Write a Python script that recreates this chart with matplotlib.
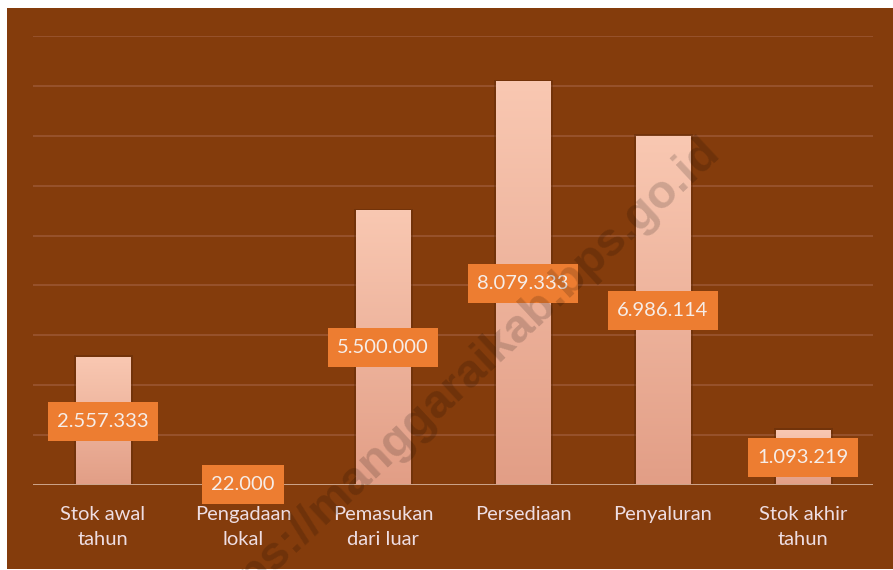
import matplotlib
matplotlib.use("Agg")
import matplotlib.pyplot as plt
import numpy as np
from matplotlib.patches import Rectangle
from matplotlib.path import Path
from matplotlib.colors import LinearSegmentedColormap

categories = ["Stok awal\ntahun", "Pengadaan\nlokal", "Pemasukan\ndari luar",
              "Persediaan", "Penyaluran", "Stok akhir\ntahun"]
values = [2557333, 22000, 5500000, 8079333, 6986114, 1093219]
value_labels = ["2.557.333", "22.000", "5.500.000", "8.079.333", "6.986.114", "1.093.219"]

W, H = 893, 570
fig = plt.figure(figsize=(W / 100, H / 100), dpi=100)
fig.patch.set_facecolor("white")
bg = "#843C0C"
fig.patches.append(Rectangle((7 / W, 1 / H), 1 - 7 / W, 1 - 9 / H, transform=fig.transFigure,
                             facecolor=bg, edgecolor="none", zorder=-5))

ax = fig.add_axes([33 / W, (H - 485) / H, 840 / W, 449 / H])
ax.set_zorder(1)
ax.set_facecolor("none")
for s in ax.spines.values():
    s.set_visible(False)
ax.set_yticks(np.arange(1000000, 9000001, 1000000))
ax.set_yticklabels([])
ax.tick_params(left=False, bottom=False, labelbottom=False)
ax.yaxis.grid(True, color="#9A5632", linewidth=1.2)
ax.set_axisbelow(True)
ax.axhline(0, color="#CDA58C", linewidth=1.4, zorder=3)

cmap = LinearSegmentedColormap.from_list("g", ["#E29E86", "#F9C8B2"])
grad = np.linspace(0, 1, 256).reshape(-1, 1)
bw = 0.39
bars = ax.bar(range(len(values)), values, width=bw, color="none", zorder=2)
for i, (b, v) in enumerate(zip(bars, values)):
    x0 = b.get_x()
    ax.add_patch(Rectangle((x0 - 0.012, 0), bw + 0.03, v + 40000, facecolor="#5E2A08",
                           alpha=0.45, edgecolor="none", zorder=1.5))
    ax.imshow(grad, cmap=cmap, origin="lower", extent=[x0, x0 + bw, 0, v],
              aspect="auto", zorder=2, interpolation="bilinear")
ax.set_xlim(-0.5, len(categories) - 0.5)
ax.set_ylim(0, 9000000)


def label_box(x0, y0, width, height, mutation_size):
    ph = 0.47 * mutation_size
    pv = 0.55 * mutation_size
    xa, ya = x0 - ph, y0 - pv
    xb, yb = x0 + width + ph, y0 + height + pv
    return Path([(xa, ya), (xb, ya), (xb, yb), (xa, yb), (xa, ya)], closed=True)


for i, (v, lab) in enumerate(zip(values, value_labels)):
    ax.text(i, v / 2, lab, ha="center", va="center", fontsize=14.5, family="Lato",
            color="#F6EDE8", zorder=5,
            bbox=dict(boxstyle=label_box, facecolor="#ED7D31", edgecolor="none"))

for i, c in enumerate(categories):
    ax.text(i, -0.047, c, transform=ax.get_xaxis_transform(), ha="center", va="top",
            fontsize=14.5, family="Lato", color="#EEDDE2", linespacing=1.55)

fig.text(0.512, 0.326, "https://manggaraikab.bps.go.id", rotation=43, ha="center", va="center",
         fontsize=34, fontweight="bold", family="Liberation Sans", color="black", alpha=0.16,
         zorder=10)

fig.savefig("out.png", dpi=100)
